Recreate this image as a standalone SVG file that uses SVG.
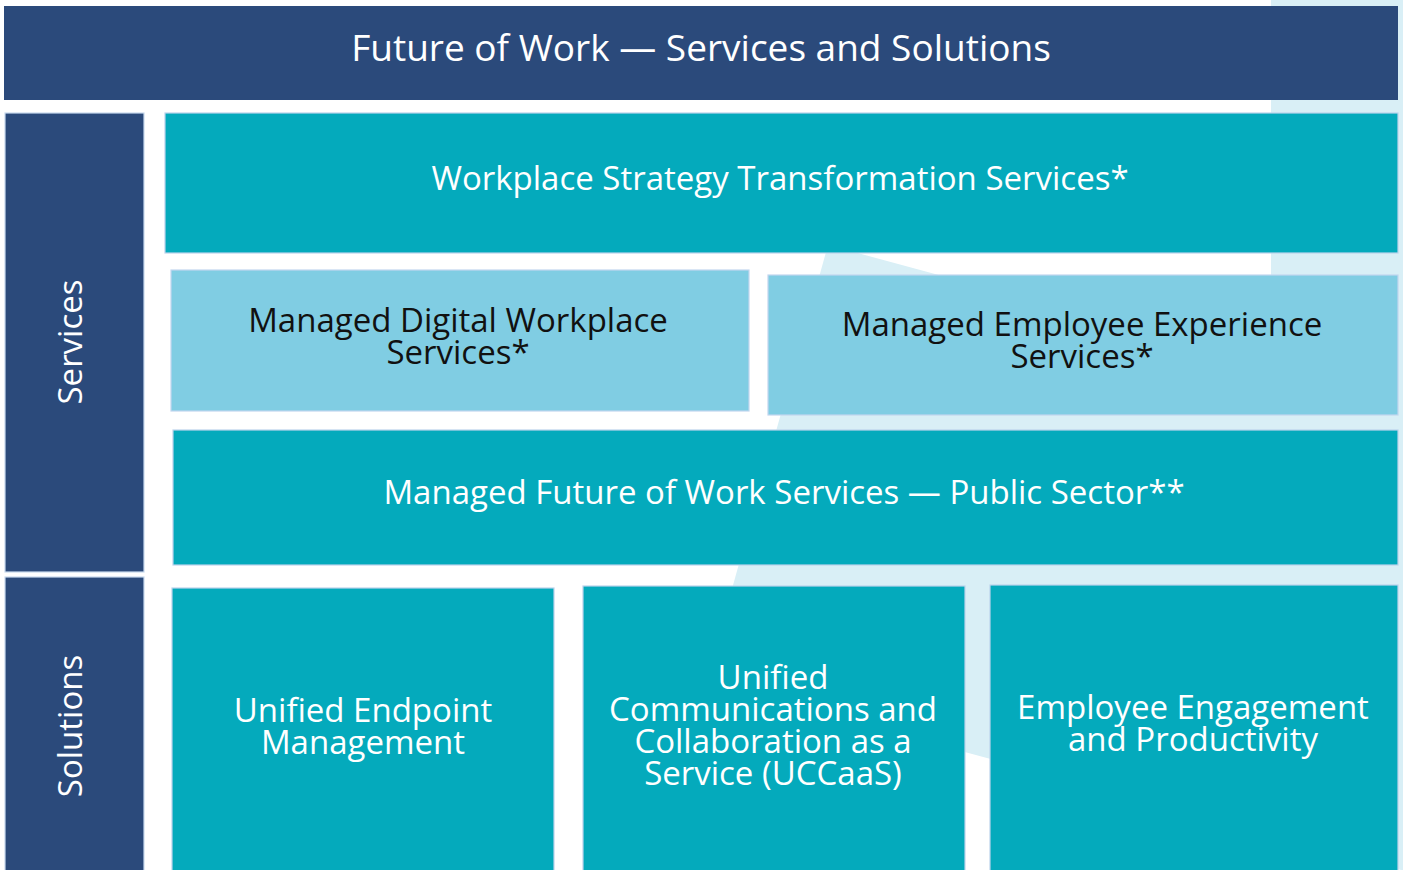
<svg xmlns="http://www.w3.org/2000/svg" width="1403" height="870" viewBox="0 0 1403 870">
<style>
.dark{fill:#2B4A7B;stroke:#C9DAEE;stroke-width:1.2}
.teal{fill:#04AABC;stroke:#BCD3EC;stroke-width:1.2}
.light{fill:#80CDE3;stroke:#C2D6EE;stroke-width:1.2}
.bg{fill:#D9EFF6}
text{font-family:"Open Sans","Noto Sans","DejaVu Sans",sans-serif;text-anchor:middle;font-size:33px}
.w{fill:#FFFFFF}
.k{fill:#111111}
.title{font-size:37px}
</style>
<rect width="1403" height="870" fill="#FFFFFF"/>
<g id="background">
<rect class="bg" x="1271" y="0" width="132" height="500"/>
<polygon class="bg" points="828,245 1793,506 1671,943 706,682"/>
</g>
<g id="title">
<rect x="4" y="6" width="1394" height="94" fill="#2B4A7B"/>
<text class="w title" x="701" y="61">Future of Work — Services and Solutions</text>
</g>
<g id="services-label">
<rect class="dark" x="5" y="113" width="139" height="459"/>
<text class="w" transform="translate(82,342) rotate(-90)">Services</text>
</g>
<g id="solutions-label">
<rect class="dark" x="5" y="577" width="139" height="300"/>
<text class="w" transform="translate(82,726) rotate(-90)">Solutions</text>
</g>
<g id="workplace-strategy">
<rect class="teal" x="165" y="113" width="1233" height="140"/>
<text class="w" x="780" y="190">Workplace Strategy Transformation Services*</text>
</g>
<g id="managed-digital-workplace">
<rect class="light" x="171" y="270" width="578" height="141"/>
<text class="k" x="458" y="332">Managed Digital Workplace</text>
<text class="k" x="458" y="364">Services*</text>
</g>
<g id="managed-employee-experience">
<rect class="light" x="768" y="275" width="630" height="140"/>
<text class="k" x="1082" y="336">Managed Employee Experience</text>
<text class="k" x="1082" y="368">Services*</text>
</g>
<g id="public-sector">
<rect class="teal" x="173" y="430" width="1225" height="135"/>
<text class="w" x="784" y="504">Managed Future of Work Services — Public Sector**</text>
</g>
<g id="unified-endpoint">
<rect class="teal" x="172" y="588" width="382" height="290"/>
<text class="w" x="363" y="722">Unified Endpoint</text>
<text class="w" x="363" y="754">Management</text>
</g>
<g id="uccaas">
<rect class="teal" x="583" y="586" width="382" height="290"/>
<text class="w" x="773" y="689">Unified</text>
<text class="w" x="773" y="721">Communications and</text>
<text class="w" x="773" y="753">Collaboration as a</text>
<text class="w" x="773" y="785">Service (UCCaaS)</text>
</g>
<g id="employee-engagement">
<rect class="teal" x="990" y="585" width="408" height="290"/>
<text class="w" x="1193" y="719">Employee Engagement</text>
<text class="w" x="1193" y="751">and Productivity</text>
</g>
<g id="connectors"/>
</svg>
